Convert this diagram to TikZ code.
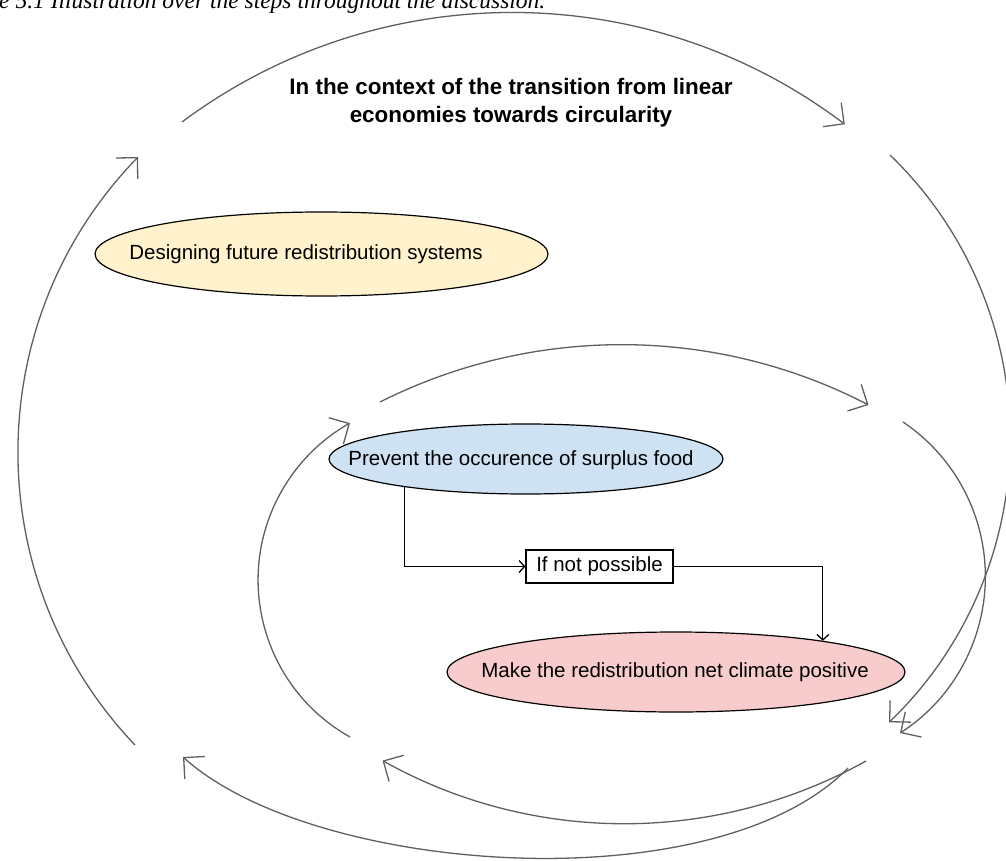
\documentclass[tikz,border=0pt]{standalone}
\usepackage{fontspec}
\setmainfont{Liberation Sans}
\newfontfamily\capfont{Liberation Serif}
\usetikzlibrary{arrows.meta,shapes.geometric}
\definecolor{arcgray}{HTML}{5F5F5F}
\definecolor{yelfill}{HTML}{FFF2CC}
\definecolor{bluefill}{HTML}{CFE2F3}
\definecolor{pinkfill}{HTML}{F8CCCC}
\begin{document}
\begin{tikzpicture}[x=1pt,y=-1pt,
  cyc/.style={draw=arcgray, line width=1.3pt, -{Straight Barb[length=15pt,width=30pt]}},
  conn/.style={draw=black, line width=1.3pt, -{Straight Barb[length=5.5pt,width=12pt]}},
  stage/.style={ellipse, draw=black, line width=1.2pt, inner sep=0pt},
  lbl/.style={font=\fontsize{20.5}{24}\selectfont, inner sep=0pt},
  stepbox/.style={draw=black, line width=1.2pt, inner sep=0pt, minimum width=147pt, minimum height=33pt, font=\fontsize{20.5}{24}\selectfont}
]
\useasboundingbox (0,0) rectangle (1006,861);
\clip (0,0) rectangle (1006,861);

% caption line running off the top edge
\node[anchor=base west, inner sep=0pt, font=\capfont\itshape\fontsize{23.5}{28}\selectfont] (cap) at (-1,9)
  {e 5.1 Illustration over the steps throughout the discussion.};

% heading
\node[align=center, font=\bfseries\fontsize{22.4}{28}\selectfont] (head) at (511,103)
  {In the context of the transition from linear\\economies towards circularity};

% stages
\node[stage, fill=yelfill, minimum width=453pt, minimum height=84pt] (design) at (321.5,254) {};
\node[lbl] (designtxt) at (306,254) {Designing future redistribution systems};

\node[stage, fill=bluefill, minimum width=394pt, minimum height=70pt] (prevent) at (526,459) {};
\node[lbl] (preventtxt) at (521,460) {Prevent the occurence of surplus food};

\node[stepbox, fill=white] (ifnot) at (599.5,566.5) {If not possible};

\node[stage, fill=pinkfill, minimum width=458pt, minimum height=80pt] (climate) at (676,672) {};
\node[lbl] (climatetxt) at (675,672) {Make the redistribution net climate positive};

% flow between the stages
\draw[conn] (prevent.193) |- (ifnot.west);
\draw[conn] (ifnot.east) -| (climate.12.5);

% outer cycle
\coordinate (o1) at (182,122);
\coordinate (o2) at (890,155);
\coordinate (o3) at (848,768);
\coordinate (o3e) at (183,757);
\coordinate (o4) at (135,745);
\draw[cyc] (o1) arc[start angle=-126.7, end angle=-52.9, radius=552];
\draw[cyc] (o2) arc[start angle=-46.0, end angle=46.2, radius=393.7];
\draw[cyc] (o3) .. controls (715,904) and (314,875) .. (o3e);
\draw[cyc] (o4) arc[start angle=136.4, end angle=224.2, radius=424];

% inner cycle
\coordinate (i1) at (380,402);
\coordinate (i2) at (903,422);
\coordinate (i3) at (866,761);
\coordinate (i4) at (350,737);
\draw[cyc] (i1) arc[start angle=-116.7, end angle=-62.6, radius=537.1];
\draw[cyc] (i2) arc[start angle=-56.1, end angle=57.2, radius=186.2];
\draw[cyc] (i3) arc[start angle=60.9, end angle=119.2, radius=496.3];
\draw[cyc] (i4) arc[start angle=119.3, end angle=240.7, radius=180];
\end{tikzpicture}
\end{document}
